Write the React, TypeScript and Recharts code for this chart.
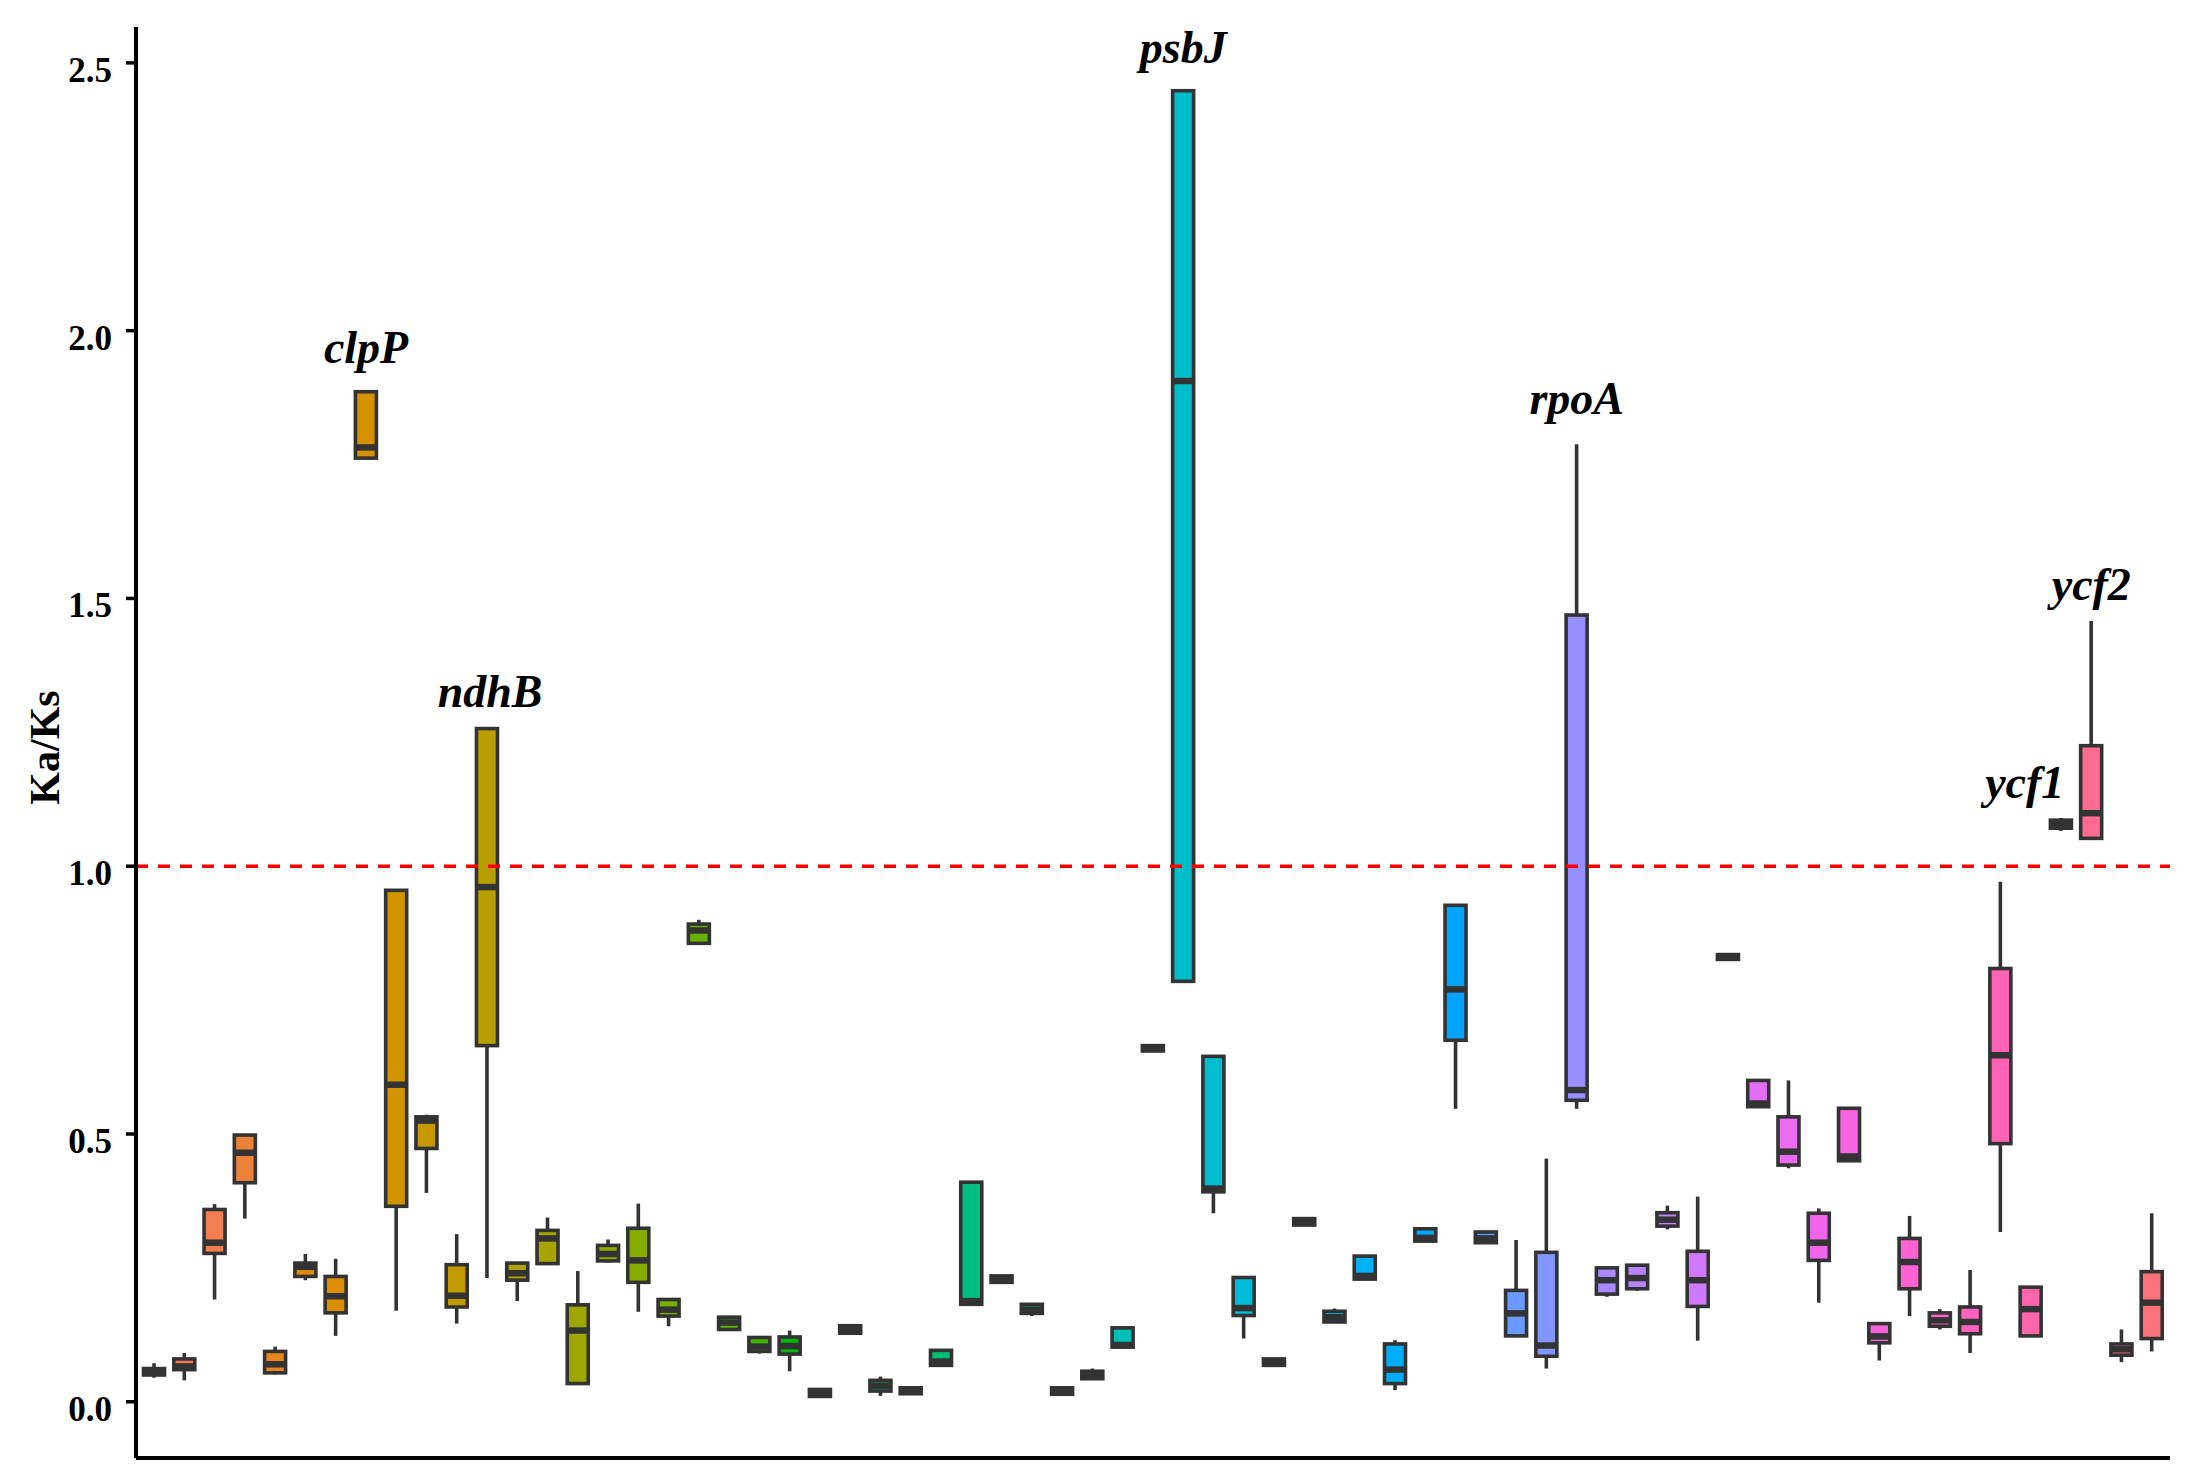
import React from 'react';
import { ComposedChart, Bar, XAxis, YAxis, ReferenceLine, ReferenceDot, Label } from 'recharts';

// ---- data ----
const genes = [
  'accD', 'atpA', 'atpB', 'atpE', 'atpF', 'atpH', 'atpI', 'clpP', 'infA', 'matK',
  'ndhA', 'ndhB', 'ndhC', 'ndhD', 'ndhE', 'ndhF', 'ndhG', 'ndhH', 'ndhI', 'ndhJ',
  'ndhK', 'petA', 'petB', 'petD', 'petG', 'petL', 'petN', 'psaA', 'psaB', 'psaC',
  'psaI', 'psaJ', 'psbA', 'psbI', 'psbJ', 'psbK', 'psbL', 'psbM', 'psbN', 'psbT',
  'psbZ', 'rbcL', 'rpl14', 'rpl16', 'rpl2', 'rpl20', 'rpl22', 'rpoA', 'rpoB', 'rpoC1',
  'rpoC2', 'rps11', 'rps12', 'rps14', 'rps15', 'rps16', 'rps18', 'rps19', 'rps2', 'rps3',
  'rps4', 'rps7', 'rps8', 'ycf1', 'ycf2', 'ycf3', 'ycf4',
];

const whiskerLow = [
  0.045, 0.040, 0.191, 0.342, 0.051, 0.227, 0.123, 1.762, 0.170, 0.390,
  0.146, 0.231, 0.188, 0.256, 0.034, 0.260, 0.168, 0.141, 0.856, 0.135,
  0.090, 0.057, 0.010, 0.128, 0.011, 0.015, 0.068, 0.182, 0.223, 0.160,
  0.014, 0.043, 0.102, 0.655, 0.785, 0.352, 0.118, 0.068, 0.330, 0.149,
  0.229, 0.022, 0.300, 0.547, 0.297, 0.123, 0.062, 0.547, 0.196, 0.207,
  0.322, 0.114, 0.826, 0.551, 0.436, 0.185, 0.450, 0.077, 0.160, 0.135,
  0.091, 0.317, 0.123, 1.066, 1.052, 0.074, 0.094,
];

const quartile1 = [
  0.050, 0.060, 0.277, 0.409, 0.054, 0.234, 0.166, 1.762, 0.365, 0.473,
  0.177, 0.665, 0.227, 0.258, 0.034, 0.263, 0.223, 0.160, 0.856, 0.135,
  0.094, 0.089, 0.010, 0.128, 0.020, 0.015, 0.068, 0.182, 0.223, 0.165,
  0.014, 0.043, 0.102, 0.655, 0.785, 0.392, 0.161, 0.068, 0.330, 0.149,
  0.229, 0.034, 0.300, 0.675, 0.297, 0.123, 0.085, 0.563, 0.201, 0.211,
  0.328, 0.178, 0.826, 0.551, 0.442, 0.264, 0.450, 0.110, 0.211, 0.141,
  0.127, 0.482, 0.123, 1.071, 1.052, 0.087, 0.118,
];

const medians = [
  0.055, 0.066, 0.297, 0.465, 0.070, 0.252, 0.197, 1.782, 0.592, 0.525,
  0.198, 0.961, 0.240, 0.305, 0.133, 0.276, 0.264, 0.172, 0.880, 0.148,
  0.103, 0.104, 0.016, 0.135, 0.030, 0.020, 0.075, 0.188, 0.229, 0.172,
  0.020, 0.050, 0.106, 0.660, 1.906, 0.398, 0.175, 0.074, 0.336, 0.158,
  0.235, 0.060, 0.306, 0.770, 0.305, 0.165, 0.105, 0.582, 0.227, 0.231,
  0.340, 0.227, 0.830, 0.557, 0.467, 0.297, 0.458, 0.122, 0.261, 0.152,
  0.149, 0.647, 0.173, 1.078, 1.099, 0.098, 0.185,
];

const quartile3 = [
  0.062, 0.080, 0.359, 0.498, 0.094, 0.259, 0.234, 1.886, 0.955, 0.532,
  0.256, 1.257, 0.259, 0.320, 0.181, 0.292, 0.324, 0.191, 0.892, 0.158,
  0.120, 0.121, 0.023, 0.142, 0.040, 0.026, 0.096, 0.410, 0.235, 0.182,
  0.026, 0.057, 0.138, 0.665, 2.448, 0.645, 0.232, 0.080, 0.342, 0.169,
  0.272, 0.108, 0.323, 0.927, 0.317, 0.208, 0.279, 1.469, 0.250, 0.255,
  0.353, 0.281, 0.835, 0.600, 0.532, 0.352, 0.548, 0.146, 0.305, 0.166,
  0.177, 0.809, 0.214, 1.086, 1.225, 0.108, 0.243,
];

const whiskerHigh = [
  0.072, 0.091, 0.369, 0.498, 0.103, 0.276, 0.267, 1.886, 0.955, 0.536,
  0.313, 1.257, 0.259, 0.344, 0.244, 0.303, 0.370, 0.191, 0.900, 0.158,
  0.120, 0.133, 0.023, 0.142, 0.047, 0.026, 0.098, 0.410, 0.235, 0.182,
  0.026, 0.062, 0.138, 0.665, 2.448, 0.645, 0.232, 0.080, 0.342, 0.174,
  0.272, 0.115, 0.323, 0.927, 0.317, 0.302, 0.454, 1.788, 0.250, 0.257,
  0.366, 0.383, 0.835, 0.600, 0.600, 0.361, 0.548, 0.146, 0.347, 0.173,
  0.246, 0.971, 0.214, 1.090, 1.458, 0.135, 0.352,
];

const yTicks = [0, 0.5, 1.0, 1.5, 2.0, 2.5];

// annotated genes: label text, x position (category units), y position (baseline value)
const labelTexts = ['clpP', 'ndhB', 'psbJ', 'rpoA', 'ycf2', 'ycf1'];
const labelX = [7, 11.1, 34, 47, 64, 61.8];
const labelY = [1.94, 1.297, 2.5, 1.844, 1.497, 1.127];

const threshold = 1.0;

// ---- styles ----
const W = 2195;
const H = 1477;
const SERIF = '"Liberation Serif", "Times New Roman", serif';
const BOX_W = 21;
const LINE_COL = '#333333';
const LW = 3.6;

function hcl(h: number, c: number, l: number): string {
  const hr = (h * Math.PI) / 180;
  const U = c * Math.cos(hr);
  const V = c * Math.sin(hr);
  const Xn = 95.047, Yn = 100, Zn = 108.883;
  const den = Xn + 15 * Yn + 3 * Zn;
  const un = (4 * Xn) / den;
  const vn = (9 * Yn) / den;
  const Y = l > 7.999592 ? Yn * Math.pow((l + 16) / 116, 3) : (Yn * l) / 903.3;
  const u = U / (13 * l) + un;
  const v = V / (13 * l) + vn;
  const X = (9 * Y * u) / (4 * v);
  const Z = -X / 3 - 5 * Y + (3 * Y) / v;
  const x = X / 100, y = Y / 100, z = Z / 100;
  const lin = [
    3.240479 * x - 1.53715 * y - 0.498535 * z,
    -0.969256 * x + 1.875992 * y + 0.041556 * z,
    0.055648 * x - 0.204043 * y + 1.057311 * z,
  ];
  const hex = lin
    .map((t) => {
      let g = t <= 0.0031308 ? 12.92 * t : 1.055 * Math.pow(t, 1 / 2.4) - 0.055;
      g = Math.max(0, Math.min(1, g));
      return Math.round(g * 255).toString(16).padStart(2, '0');
    })
    .join('');
  return '#' + hex;
}

const palette = genes.map((_, i) => hcl(15 + (360 * i) / genes.length, 100, 65));

const data = genes.map((gene, i) => ({
  idx: i,
  gene,
  low: whiskerLow[i],
  q1: quartile1[i],
  med: medians[i],
  q3: quartile3[i],
  high: whiskerHigh[i],
}));

const BoxShape = (props: any) => {
  const { x, y, width, height, payload } = props;
  if (x == null || y == null || !payload) return null;
  const cx = x + width / 2;
  const top = Math.min(y, y + height);
  const h = Math.abs(height);
  const span = payload.high - payload.low;
  const py = (v: number) => top + (h * (payload.high - v)) / span;
  const color = palette[payload.idx];
  const yq3 = py(payload.q3);
  const yq1 = py(payload.q1);
  return (
    <g>
      {payload.high > payload.q3 && (
        <line x1={cx} x2={cx} y1={py(payload.high)} y2={yq3} stroke={LINE_COL} strokeWidth={LW} />
      )}
      {payload.low < payload.q1 && (
        <line x1={cx} x2={cx} y1={yq1} y2={py(payload.low)} stroke={LINE_COL} strokeWidth={LW} />
      )}
      <rect
        x={cx - BOX_W / 2}
        y={yq3}
        width={BOX_W}
        height={Math.max(0.5, yq1 - yq3)}
        fill={color}
        stroke={LINE_COL}
        strokeWidth={LW}
      />
      <line
        x1={cx - BOX_W / 2}
        x2={cx + BOX_W / 2}
        y1={py(payload.med)}
        y2={py(payload.med)}
        stroke={LINE_COL}
        strokeWidth={LW * 1.8}
      />
    </g>
  );
};

const YTick = (props: any) => {
  const { x, y, payload } = props;
  return (
    <text
      x={x}
      y={y + 19}
      textAnchor="end"
      fontFamily={SERIF}
      fontWeight="bold"
      fontSize={35}
      fill="#000"
    >
      {Number(payload.value).toFixed(1)}
    </text>
  );
};

const YLabel = (props: any) => {
  const vb = props.viewBox || {};
  const cy = (vb.y ?? 27) + (vb.height ?? 1431) / 2 + 5;
  const bx = 59;
  return (
    <text
      x={bx}
      y={cy}
      transform={`rotate(-90, ${bx}, ${cy})`}
      textAnchor="middle"
      fontFamily={SERIF}
      fontWeight="bold"
      fontSize={42}
      fill="#000"
    >
      Ka/Ks
    </text>
  );
};

export default function App() {
  return (
    <div style={{ position: 'absolute', left: 0, top: 0, width: W, height: H, background: '#fff' }}>
      <ComposedChart
        width={W}
        height={H}
        data={data}
        margin={{ top: 27, right: 25, bottom: 17, left: 0 }}
      >
        <XAxis
          dataKey="idx"
          type="number"
          domain={[-0.6, genes.length - 0.4]}
          tick={false}
          tickLine={false}
          height={2}
          axisLine={{ stroke: '#000', strokeWidth: 4 }}
          allowDataOverflow
        />
        <YAxis
          type="number"
          domain={[-0.105, 2.567]}
          ticks={yTicks}
          width={136}
          tickSize={10}
          tickLine={{ stroke: '#000', strokeWidth: 3.5 }}
          axisLine={{ stroke: '#000', strokeWidth: 4 }}
          tick={<YTick />}
          tickMargin={14}
          allowDataOverflow
          interval={0}
        >
          <Label content={<YLabel />} />
        </YAxis>
        <ReferenceLine
          y={threshold}
          stroke="#FF0000"
          strokeWidth={3.6}
          strokeDasharray="12 10"
        />
        <Bar
          dataKey={(d: any) => [d.low, d.high]}
          barSize={22}
          shape={<BoxShape />}
          isAnimationActive={false}
        />
        {labelTexts.map((t, i) => (
          <ReferenceDot
            key={t}
            x={labelX[i]}
            y={labelY[i]}
            r={0}
            ifOverflow="visible"
            shape={(p: any) => (
              <text
                x={p.cx}
                y={p.cy}
                textAnchor="middle"
                fontFamily={SERIF}
                fontWeight="bold"
                fontStyle="italic"
                fontSize={46}
                fill="#000"
              >
                {t}
              </text>
            )}
          />
        ))}
      </ComposedChart>
    </div>
  );
}
